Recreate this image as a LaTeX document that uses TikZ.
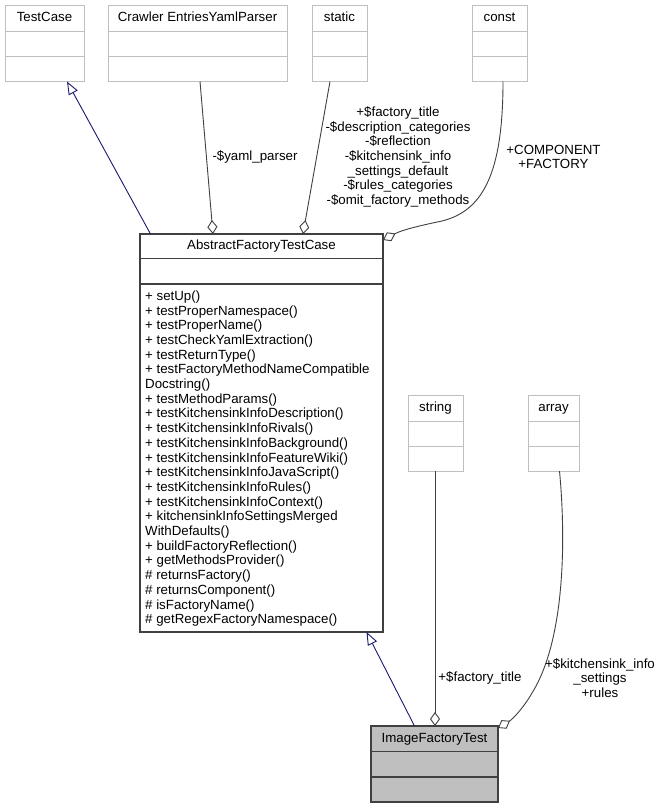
\documentclass[tikz,border=0pt]{standalone}
\usepackage{fontspec}
\setmainfont{Liberation Sans}
\usetikzlibrary{arrows.meta}
\definecolor{lightborder}{HTML}{BFBFBF}
\definecolor{darkborder}{HTML}{404040}
\definecolor{edgegray}{HTML}{404040}
\definecolor{inhblue}{HTML}{191970}
\definecolor{curfill}{HTML}{BFBFBF}
\tikzset{
  every node/.style={font=\fontsize{13.3}{14.7}\selectfont},
  lightbox/.style={draw=lightborder, line width=1pt, fill=white, inner sep=0pt, outer sep=0pt},
  lightboxline/.style={draw=lightborder, line width=1pt},
  darkbox/.style={draw=darkborder, line width=1.3pt, fill=white, inner sep=0pt, outer sep=0pt},
  darkboxline/.style={draw=darkborder, line width=1.3pt},
  curbox/.style={draw=darkborder, line width=1.3pt, fill=curfill, inner sep=0pt, outer sep=0pt},
  curboxline/.style={draw=darkborder, line width=1.3pt},
  titletext/.style={inner sep=0pt, text height=9.6pt, text depth=2.8pt},
  edgelabel/.style={inner sep=0pt, align=center, text=black},
  aggr/.style={draw=edgegray, line width=0.9pt, -{Diamond[open, length=14pt, width=10pt]}},
  inherit/.style={draw=inhblue, line width=0.9pt, -{Triangle[open, length=13pt, width=10pt]}},
}
% name, x, y, w, h, style, title, first line offset, second line offset
\newcommand{\umlclass}[9]{%
  \node[#6, anchor=north west, minimum width=#4pt, minimum height=#5pt] (#1) at (#2,#3) {};
  \node[titletext] (#1-title) at ([yshift=-#8pt/2]#1.north) {#7};
  \draw[#6line] ([yshift=-#8pt]#1.north west) -- ([yshift=-#8pt]#1.north east);
  \draw[#6line] ([yshift=-#9pt]#1.north west) -- ([yshift=-#9pt]#1.north east);
}
\begin{document}
\begin{tikzpicture}[x=1pt, y=-1pt]
\fill[white] (0,0) rectangle (661,808);
\useasboundingbox (0,0) rectangle (661,808);

\umlclass{tc}{5}{5.5}{79}{76}{lightbox}{TestCase}{26}{51}
\umlclass{crawler}{108}{5.5}{179}{76}{lightbox}{Crawler EntriesYamlParser}{26}{51}
\umlclass{static}{312}{5.5}{55}{76}{lightbox}{static}{26}{51}
\umlclass{const}{472}{5.5}{55}{76}{lightbox}{const}{26}{51}
\umlclass{aftc}{140}{234}{243}{398}{darkbox}{AbstractFactoryTestCase}{24.5}{50}
\umlclass{string}{408}{395}{55}{76}{lightbox}{string}{26}{51}
\umlclass{array}{528}{395}{51}{76}{lightbox}{array}{26}{51}
\umlclass{ift}{371}{726}{127}{76}{curbox}{ImageFactoryTest}{25.3}{51}

\node[inner sep=0pt, anchor=north west, align=left] (aftc-methods) at (145,290.5) {%
+ setUp()\\
+ testProperNamespace()\\
+ testProperName()\\
+ testCheckYamlExtraction()\\
+ testReturnType()\\
+ testFactoryMethodNameCompatible\\
Docstring()\\
+ testMethodParams()\\
+ testKitchensinkInfoDescription()\\
+ testKitchensinkInfoRivals()\\
+ testKitchensinkInfoBackground()\\
+ testKitchensinkInfoFeatureWiki()\\
+ testKitchensinkInfoJavaScript()\\
+ testKitchensinkInfoRules()\\
+ testKitchensinkInfoContext()\\
+ kitchensinkInfoSettingsMerged\\
WithDefaults()\\
+ buildFactoryReflection()\\
+ getMethodsProvider()\\
\# returnsFactory()\\
\# returnsComponent()\\
\# isFactoryName()\\
\# getRegexFactoryNamespace()};

% connectors
\draw[inherit] ([xshift=10.5pt]aftc.north west) -- ([xshift=62pt]tc.south west);
\draw[aggr] ([xshift=92pt]crawler.south west) -- ([xshift=73pt]aftc.north west);
\draw[aggr] ([xshift=18pt]static.south west) -- ([xshift=163pt]aftc.north west);
\draw[aggr] ([xshift=31pt]const.south west) .. controls (503,175) and (482,211) .. (442,221)
   .. controls (418,226) and (402,230) .. ([yshift=-6pt]aftc.north east);
\draw[inherit] ([xshift=43.5pt]ift.north west) -- ([xshift=226.5pt]aftc.south west);
\draw[aggr] ([xshift=27pt]string.south west) -- ([xshift=64pt]ift.north west);
\draw[aggr] ([xshift=31.5pt]array.south west) .. controls (566,540) and (565,640) .. (532,693)
   .. controls (524,707) and (513,719) .. ([yshift=-2pt]ift.north east);

% labels
\node[edgelabel] (lbl-yaml) at (255,157) {-\$yaml\_parser};
\node[edgelabel] (lbl-static) at (398,157) {+\$factory\_title\\-\$description\_categories\\-\$reflection\\-\$kitchensink\_info\\\_settings\_default\\-\$rules\_categories\\-\$omit\_factory\_methods};
\node[edgelabel] (lbl-const) at (553.5,157) {+COMPONENT\\+FACTORY};
\node[edgelabel] (lbl-string) at (480,678) {+\$factory\_title};
\node[edgelabel] (lbl-array) at (600,678) {+\$kitchensink\_info\\\_settings\\+rules};
\end{tikzpicture}
\end{document}
